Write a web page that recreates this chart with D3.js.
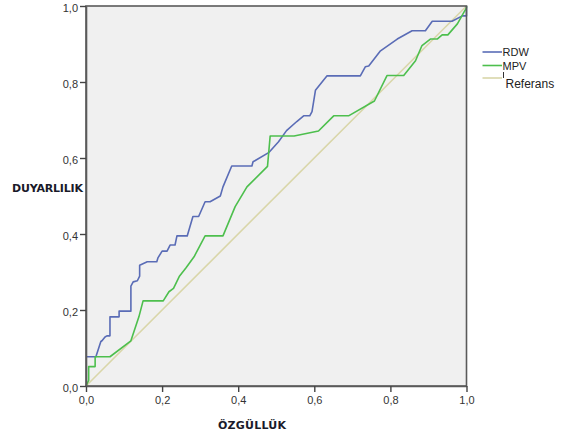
<!DOCTYPE html>
<html>
<head>
<meta charset="utf-8">
<script src="https://cdn.jsdelivr.net/npm/d3@7/dist/d3.min.js"></script>
<style>
html,body{margin:0;padding:0;background:#fff;}
svg{display:block;font-family:"Liberation Sans",Arial,sans-serif;}
</style>
</head>
<body>
<svg id="chart" width="561" height="439"></svg>
<script>
// ---- data ----
const seriesNames = ["RDW", "MPV", "Referans"];
const tickValues = [0, 0.2, 0.4, 0.6, 0.8, 1.0];
const tickLabels = ["0,0", "0,2", "0,4", "0,6", "0,8", "1,0"];
const xTitle = "ÖZGÜLLÜK";
const yTitle = "DUYARLILIK";

const rdwX = [0, 0.026, 0.039, 0.042, 0.050, 0.055, 0.063, 0.063, 0.087, 0.087, 0.118, 0.118, 0.124, 0.135, 0.141, 0.141, 0.161, 0.186, 0.189, 0.200, 0.213, 0.221, 0.234, 0.239, 0.266, 0.281, 0.296, 0.313, 0.326, 0.353, 0.360, 0.383, 0.436, 0.439, 0.480, 0.506, 0.527, 0.554, 0.572, 0.588, 0.594, 0.603, 0.633, 0.721, 0.734, 0.743, 0.774, 0.818, 0.857, 0.892, 0.910, 0.962, 0.989, 1.0, 1.0];
const rdwY = [0.077, 0.077, 0.117, 0.119, 0.129, 0.132, 0.132, 0.182, 0.182, 0.197, 0.197, 0.263, 0.274, 0.277, 0.289, 0.318, 0.327, 0.327, 0.337, 0.355, 0.355, 0.371, 0.371, 0.395, 0.395, 0.446, 0.446, 0.485, 0.485, 0.500, 0.524, 0.579, 0.579, 0.590, 0.614, 0.643, 0.672, 0.696, 0.711, 0.711, 0.722, 0.778, 0.816, 0.816, 0.840, 0.842, 0.882, 0.913, 0.935, 0.935, 0.960, 0.960, 0.974, 0.974, 1.0];

const mpvX = [0, 0.007, 0.007, 0.024, 0.024, 0.063, 0.118, 0.139, 0.150, 0.203, 0.218, 0.230, 0.245, 0.263, 0.284, 0.313, 0.360, 0.392, 0.423, 0.477, 0.484, 0.547, 0.611, 0.651, 0.690, 0.758, 0.791, 0.835, 0.866, 0.883, 0.905, 0.923, 0.936, 0.951, 0.976, 0.993, 1.0, 1.0];
const mpvY = [0, 0.015, 0.051, 0.051, 0.077, 0.077, 0.119, 0.182, 0.224, 0.224, 0.248, 0.257, 0.288, 0.311, 0.340, 0.395, 0.395, 0.472, 0.524, 0.578, 0.658, 0.658, 0.671, 0.711, 0.711, 0.750, 0.817, 0.817, 0.856, 0.896, 0.913, 0.913, 0.924, 0.924, 0.953, 0.983, 0.995, 1.0];

const refX = [0, 1];
const refY = [0, 1];

const colors = ["#5a6cb6", "#4dbf4d", "#d9d6a9"];

// ---- layout ----
const svg = d3.select("#chart");
const mLeft = 86, mRight = 466.5, mTop = 6, mBottom = 386;
const x = d3.scaleLinear().domain([0, 1]).range([mLeft, mRight]);
const y = d3.scaleLinear().domain([0, 1]).range([mBottom, mTop]);

svg.append("rect")
  .attr("x", mLeft).attr("y", mTop)
  .attr("width", mRight - mLeft).attr("height", mBottom - mTop)
  .attr("fill", "#f0f0f0");

const line = d3.line().x(d => x(d[0])).y(d => y(d[1]));
const series = [
  d3.zip(rdwX, rdwY),
  d3.zip(mpvX, mpvY),
  d3.zip(refX, refY)
];
[2, 0, 1].forEach(i => {
  svg.append("path")
    .datum(series[i])
    .attr("d", line)
    .attr("fill", "none")
    .attr("stroke", colors[i])
    .attr("stroke-width", 1.6)
    .attr("stroke-linejoin", "round");
});

// border
svg.append("rect")
  .attr("x", mLeft).attr("y", mTop)
  .attr("width", mRight - mLeft).attr("height", mBottom - mTop)
  .attr("fill", "none")
  .attr("stroke", "#5a5a5a")
  .attr("stroke-width", 1.6);

const fmt = d => tickLabels[tickValues.findIndex(v => Math.abs(v - d) < 1e-9)];

const xAxis = svg.append("g")
  .attr("transform", `translate(0,${mBottom})`)
  .call(d3.axisBottom(x).tickValues(tickValues).tickFormat(fmt).tickSize(6).tickSizeOuter(0).tickPadding(4));
const yAxis = svg.append("g")
  .attr("transform", `translate(${mLeft},0)`)
  .call(d3.axisLeft(y).tickValues(tickValues).tickFormat(fmt).tickSize(6).tickSizeOuter(0).tickPadding(2));

[xAxis, yAxis].forEach(g => {
  g.select(".domain").attr("stroke", "#5a5a5a").attr("stroke-width", 1.6);
  g.selectAll(".tick line").attr("stroke", "#444").attr("stroke-width", 1.4);
  g.selectAll(".tick text")
    .attr("fill", "#333")
    .style("font-size", "11px")
    .style("font-family", "'Liberation Sans', Arial, sans-serif");
});
yAxis.selectAll(".tick text").attr("dy", "0.5em");

// axis titles
svg.append("text")
  .attr("x", 12).attr("y", 191.5)
  .attr("fill", "#1a1a2a")
  .style("font-size", "11px").style("font-weight", "bold")
  .style("font-family", "'DejaVu Sans', Verdana, sans-serif")
  .attr("textLength", 71)
  .text(yTitle);
svg.append("text")
  .attr("x", 252).attr("y", 428.5)
  .attr("text-anchor", "middle")
  .attr("fill", "#1a1a2a")
  .style("font-size", "11px").style("font-weight", "bold")
  .style("font-family", "'DejaVu Sans', Verdana, sans-serif")
  .attr("textLength", 68)
  .text(xTitle);

// legend
const legY = [52, 65.5, 78];
const legTextY = [56, 69.5, 88];
seriesNames.forEach((name, i) => {
  svg.append("line")
    .attr("x1", 482.5).attr("x2", 502)
    .attr("y1", legY[i]).attr("y2", legY[i])
    .attr("stroke", colors[i]).attr("stroke-width", 1.6);
  svg.append("text")
    .attr("x", i === 2 ? 505.5 : 502.5).attr("y", legTextY[i])
    .attr("fill", "#222")
    .style("font-size", i === 2 ? "12px" : "11px")
    .text(name);
});
// small marker glyph before "Referans"
svg.append("line")
  .attr("x1", 503.5).attr("x2", 503.5)
  .attr("y1", 72).attr("y2", 78)
  .attr("stroke", "#333").attr("stroke-width", 1);
</script>
</body>
</html>
